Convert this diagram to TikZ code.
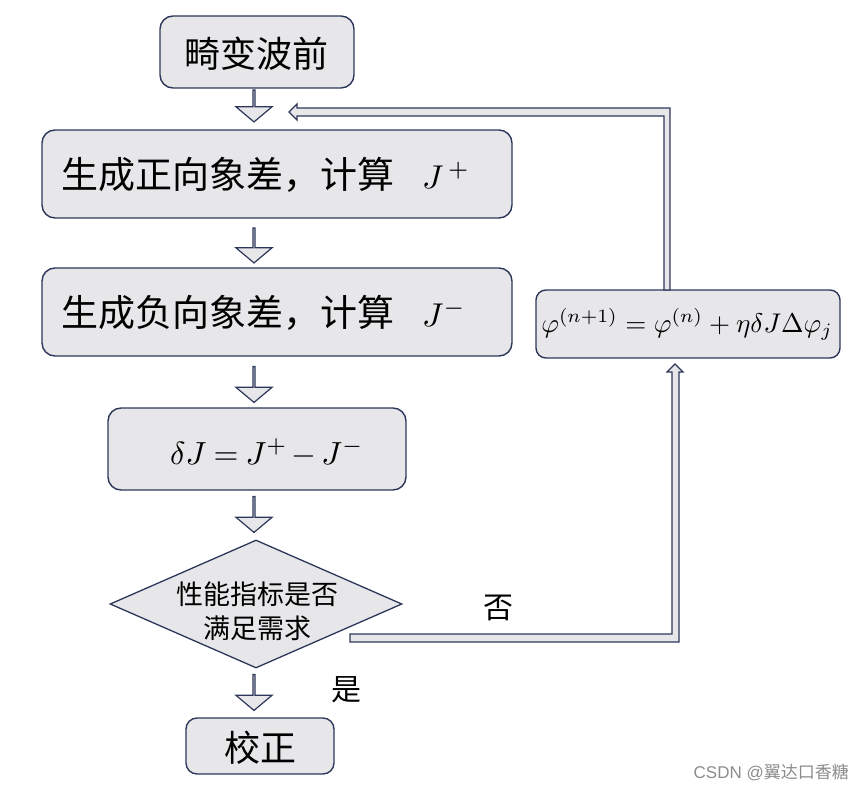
\documentclass[tikz,border=0pt]{standalone}
\usepackage{graphicx}
\usepackage{fontspec}
\setmainfont{Liberation Serif}
\newfontfamily\cjk{Noto Sans CJK SC}
\newfontfamily\wmsans{Liberation Sans}
\usetikzlibrary{shapes.geometric,shapes.arrows,calc}
\definecolor{bfill}{RGB}{231,231,234}
\definecolor{bline}{RGB}{45,55,90}
\begin{document}
\begin{tikzpicture}[x=1pt,y=-1pt,
  box/.style={draw=bline, fill=bfill, line width=1.4pt, rounded corners=13pt, inner sep=0pt},
  txt/.style={inner sep=0pt, text=black},
  barrow/.style={single arrow, draw=bline, fill=bfill, line width=1.2pt,
    shape border rotate=270, minimum width=36pt, single arrow head extend=10pt,
    single arrow tip angle=100, inner sep=0pt},
  band/.style={draw=bline, fill=bfill, line width=1.1pt, line join=miter}
]
\useasboundingbox (0,0) rectangle (865,792);

% boxes
\node[box, minimum width=194pt, minimum height=72pt] (b1) at (257,52) {};
\node[txt, font=\fontsize{36}{40}\selectfont\cjk] (t1) at (256,54) {畸变波前};

\node[box, minimum width=470pt, minimum height=88pt] (b2) at (277,174) {};
\node[txt, anchor=base west, font=\fontsize{37}{40}\selectfont] (t2) at (61,188)
  {{\cjk 生成正向象差，计算}\hspace{28pt}\scalebox{3.3}{\normalsize$J^{\,+}$}};

\node[box, minimum width=470pt, minimum height=88pt] (b3) at (277,312) {};
\node[txt, anchor=base west, font=\fontsize{37}{40}\selectfont] (t3) at (61,326)
  {{\cjk 生成负向象差，计算}\hspace{28pt}\scalebox{3.3}{\normalsize$J^{-}$}};

\node[box, minimum width=298pt, minimum height=82pt] (b4) at (257,449) {};
\node[txt] (t4) at (267,453) {\scalebox{3.2}{\normalsize$\delta J\mkern-1mu=\mkern-1mu J^{+}\mkern-2mu-\mkern-1mu J^{-}$}};

\node[draw=bline, fill=bfill, line width=1.3pt, diamond, shape aspect=2.28,
  minimum width=292pt, minimum height=128pt, inner sep=0pt] (d) at (256,604) {};
\node[txt, align=center, font=\fontsize{27}{34}\selectfont\cjk] (dt) at (257,611)
  {性能指标是否\\满足需求};

\node[box, rounded corners=11pt, minimum width=148pt, minimum height=56pt] (b5) at (260,746) {};
\node[txt, font=\fontsize{36}{40}\selectfont\cjk] (t5) at (260,748) {校正};

\node[box, rounded corners=10pt, minimum width=304pt, minimum height=68pt] (f) at (688,324) {};
\node[txt] (tf) at (687,324)
  {\scalebox{2.7}{\normalsize$\varphi^{(n+1)} = \varphi^{(n)} + \eta\delta J\Delta\varphi_{j}$}};

% block arrows
\node[barrow, minimum height=32pt] (a1) at (254,105.5) {};
\node[barrow, minimum height=35pt] (a2) at (254,245) {};
\node[barrow, minimum height=36pt] (a3) at (254,384) {};
\node[barrow, minimum height=36pt] (a4) at (254,514) {};
\node[barrow, minimum height=36pt] (a5) at (254,692) {};

% feedback bands
\draw[band] (350,634) -- (672,634) -- (672,372) -- (667,372) -- (675,364)
  -- (683,372) -- (679,372) -- (679,642) -- (350,642) -- cycle;
\draw[band] (664,290) -- (664,116) -- (297,116) -- (297,120) -- (289,112)
  -- (297,104) -- (297,108) -- (670,108) -- (670,290) -- cycle;

% labels
\node[txt, font=\fontsize{30}{34}\selectfont\cjk] (no) at (498,608) {否};
\node[txt, font=\fontsize{30}{34}\selectfont\cjk] (yes) at (346,690) {是};

\node[txt, anchor=east, text=black!45, font=\fontsize{17}{20}\selectfont\wmsans] (wm) at (849,772)
  {CSDN @{\cjk 翼达口香糖}};
\end{tikzpicture}
\end{document}
